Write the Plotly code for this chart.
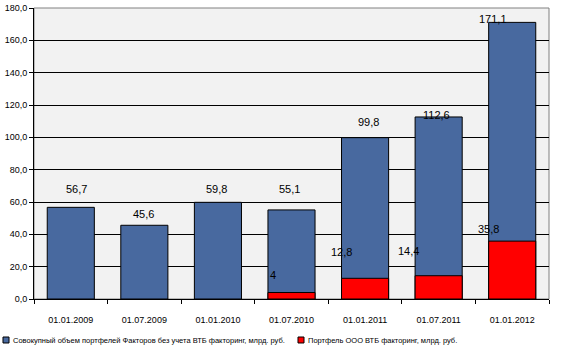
import plotly.graph_objects as go

categories = ["01.01.2009", "01.07.2009", "01.01.2010", "01.07.2010", "01.01.2011", "01.07.2011", "01.01.2012"]
total_values = [56.7, 45.6, 59.8, 55.1, 99.8, 112.6, 171.1]
vtb_values = [None, None, None, 4.0, 12.8, 14.4, 35.8]
total_labels = ["56,7", "45,6", "59,8", "55,1", "99,8", "112,6", "171,1"]
vtb_labels = ["", "", "", "4", "12,8", "14,4", "35,8"]

name_total = "Совокупный объем портфелей Факторов без учета ВТБ факторинг, млрд. руб."
name_vtb = "Портфель ООО ВТБ факторинг, млрд. руб."

color_total = "#48699f"
color_vtb = "#ff0000"

# label placement (pixel offsets relative to the bar tops / category centres)
total_label_dy = [15, 8, 10, 18, 13, -1, 0]
total_label_dx = [6, -1, -1, -2, 3, -2, -19]
vtb_label_dy = [0, 0, 0, 15, 23, 22, 9]
vtb_label_dx = [0, 0, 0, -19, -24, -30, -24]

fig = go.Figure()
fig.add_trace(go.Bar(x=categories, y=total_values, name=name_total,
                     marker=dict(color=color_total, line=dict(color="black", width=1)),
                     width=0.64))
fig.add_trace(go.Bar(x=categories, y=vtb_values, name=name_vtb,
                     marker=dict(color=color_vtb, line=dict(color="black", width=1)),
                     width=0.64))

lab_font = dict(family="Liberation Sans, Arial", size=11, color="black")
ann = []
for i, c in enumerate(categories):
    ann.append(dict(x=c, y=total_values[i], xref="x", yref="y", text=total_labels[i],
                    showarrow=False, yanchor="bottom", xshift=total_label_dx[i],
                    yshift=total_label_dy[i] - 5, font=lab_font))
    if vtb_values[i] is not None:
        ann.append(dict(x=c, y=vtb_values[i], xref="x", yref="y", text=vtb_labels[i],
                        showarrow=False, yanchor="bottom", xshift=vtb_label_dx[i],
                        yshift=vtb_label_dy[i] - 5, font=lab_font))

# manual legend (below the plot)
leg_font = dict(family="Liberation Sans, Arial", size=7.5, color="black")
leg_items = [(name_total, color_total, -0.0602), (name_vtb, color_vtb, 0.5126)]
shapes = [dict(type="rect", xref="paper", yref="paper", x0=0, x1=1, y0=0, y1=1,
               line=dict(color="#808080", width=1), layer="below")]
for name, col, x0 in leg_items:
    shapes.append(dict(type="rect", xref="paper", yref="paper", x0=x0, x1=x0 + 0.0117,
                       y0=-0.1512, y1=-0.1306, fillcolor=col,
                       line=dict(color="black", width=1)))
    ann.append(dict(x=x0 + 0.0155, y=-0.1409, xref="paper", yref="paper", text=name,
                    showarrow=False, xanchor="left", yanchor="middle", font=leg_font))

fig.update_layout(
    barmode="overlay",
    width=573, height=351,
    margin=dict(l=34, r=24, t=8, b=52),
    paper_bgcolor="white",
    plot_bgcolor="#f2f2f2",
    separators=", ",
    font=dict(family="Liberation Sans, Arial", size=9, color="black"),
    annotations=ann,
    shapes=shapes,
    showlegend=False,
    bargap=0.36,
)
fig.update_xaxes(type="category", showgrid=False, ticks="outside", tickson="boundaries",
                 ticklen=4, tickcolor="black", linecolor="black", showline=True,
                 tickfont=dict(size=9), mirror=False, automargin=False,
                 ticklabelstandoff=12)
fig.update_yaxes(range=[0, 180], dtick=20, tickformat=".1f", showgrid=True,
                 gridcolor="black", gridwidth=1, showline=True, linecolor="black",
                 ticks="outside", ticklen=4, tickcolor="black", zeroline=False,
                 tickfont=dict(size=9), automargin=False)

fig.write_html("out.html")
